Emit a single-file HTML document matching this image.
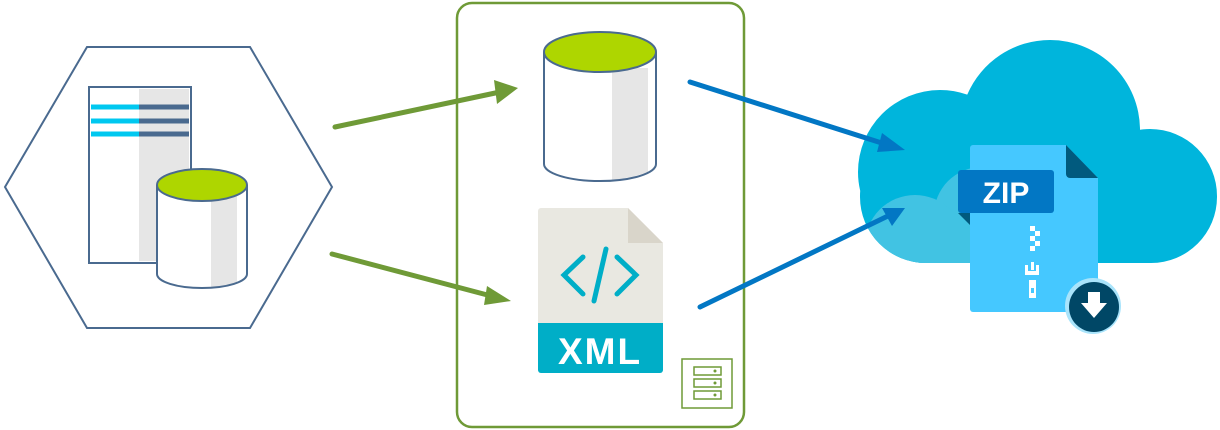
<!DOCTYPE html>
<html><head><meta charset="utf-8"><style>html,body{margin:0;padding:0;background:#fff}svg{display:block}</style></head>
<body>
<svg width="1220" height="430" viewBox="0 0 1220 430" xmlns="http://www.w3.org/2000/svg">
<defs>
<clipPath id="cloud">
<circle cx="940" cy="172" r="82"/>
<circle cx="1050" cy="130" r="90"/>
<circle cx="1150" cy="196" r="67"/>
<rect x="860" y="130" width="357" height="133" rx="66"/>
</clipPath>
</defs>
<!-- hexagon -->
<polygon points="5,187 87,47 250,47 332,187 250,328 87,328" fill="#fff" stroke="#4a6a8f" stroke-width="2"/>
<rect x="89" y="87" width="102" height="176" fill="#fff" stroke="#4a6a8f" stroke-width="2"/>
<rect x="139" y="89" width="50" height="172" fill="#e6e6e6"/>
<g stroke-width="5">
<line x1="91" y1="107" x2="139" y2="107" stroke="#00c8f0"/><line x1="139" y1="107" x2="189" y2="107" stroke="#4a6a8f"/>
<line x1="91" y1="121" x2="139" y2="121" stroke="#00c8f0"/><line x1="139" y1="121" x2="189" y2="121" stroke="#4a6a8f"/>
<line x1="91" y1="134" x2="139" y2="134" stroke="#00c8f0"/><line x1="139" y1="134" x2="189" y2="134" stroke="#4a6a8f"/>
</g>
<path d="M157,185 V274 A45,14 0 0 0 247,274 V185 Z" fill="#fff"/>
<path d="M211,195 H237 V283 Q225,287 211,288 Z" fill="#e6e6e6"/>
<path d="M157,185 V274 A45,14 0 0 0 247,274 V185" fill="none" stroke="#4a6a8f" stroke-width="2"/>
<ellipse cx="202" cy="185" rx="45" ry="16" fill="#aed600" stroke="#4a6a8f" stroke-width="2"/>
<!-- container -->
<rect x="457" y="3" width="287" height="424" rx="15" fill="none" stroke="#6f9a37" stroke-width="2.5"/>
<!-- top cylinder -->
<path d="M544,52 V164 A56,17 0 0 0 656,164 V52 Z" fill="#fff"/>
<path d="M612,68 H648 V172 Q632,178 612,180 Z" fill="#e6e6e6"/>
<path d="M544,52 V164 A56,17 0 0 0 656,164 V52" fill="none" stroke="#4a6a8f" stroke-width="2"/>
<ellipse cx="600" cy="52" rx="56" ry="20" fill="#aed600" stroke="#4a6a8f" stroke-width="2"/>
<!-- XML doc -->
<path d="M541,208 H628 L663,243 V370 a3,3 0 0 1 -3,3 H541 a3,3 0 0 1 -3,-3 V211 a3,3 0 0 1 3,-3 Z" fill="#e9e8e1"/>
<path d="M628,208 L663,243 H628 Z" fill="#d9d5ca"/>
<path d="M538,323 H663 V370 a3,3 0 0 1 -3,3 H541 a3,3 0 0 1 -3,-3 Z" fill="#00aec7"/>
<g stroke="#00aec7" stroke-width="5" stroke-linecap="round" fill="none">
<polyline points="583,257 564,275 583,294"/>
<polyline points="617,257 636,275 617,294"/>
<line x1="606" y1="249" x2="594" y2="301"/>
</g>
<text x="600" y="364" text-anchor="middle" font-family="Liberation Sans, sans-serif" font-weight="bold" font-size="37" fill="#fff" letter-spacing="2">XML</text>
<!-- server icon -->
<rect x="682" y="359" width="50" height="49" fill="none" stroke="#6f9a37" stroke-width="1.5"/>
<g fill="none" stroke="#6f9a37" stroke-width="1.5">
<rect x="694" y="367" width="27" height="8"/><rect x="694" y="379" width="27" height="8"/><rect x="694" y="391" width="27" height="8"/>
</g>
<g fill="#6f9a37"><circle cx="715" cy="371" r="1.5"/><circle cx="715" cy="383" r="1.5"/><circle cx="715" cy="395" r="1.5"/></g>
<!-- cloud -->
<g clip-path="url(#cloud)">
<rect x="850" y="30" width="370" height="240" fill="#00b5dc"/>
<circle cx="982" cy="215" r="48" fill="#41c3e3"/>
<circle cx="915" cy="245" r="50" fill="#41c3e3"/>
<rect x="915" y="215" width="70" height="60" fill="#41c3e3"/>
</g>
<!-- zip file -->
<path d="M973,145 H1066 L1098,178 V309 a3,3 0 0 1 -3,3 H973 a3,3 0 0 1 -3,-3 V148 a3,3 0 0 1 3,-3 Z" fill="#45c8ff"/>
<path d="M1066,145 L1098,178 H1070 a4,4 0 0 1 -4,-4 Z" fill="#015a7e"/>
<path d="M958,213 L970,225 V213 Z" fill="#015a7e"/>
<rect x="958" y="170" width="96" height="43" rx="3" fill="#0277c4"/>
<text x="1006" y="203" text-anchor="middle" font-family="Liberation Sans, sans-serif" font-weight="bold" font-size="30" fill="#fff">ZIP</text>
<g fill="#fff">
<rect x="1030" y="226" width="5" height="5"/><rect x="1035" y="231" width="5" height="5"/><rect x="1030" y="236" width="5" height="5"/><rect x="1035" y="241" width="5" height="5"/><rect x="1030" y="246" width="5" height="5"/>
<path d="M1025,265 H1028 V271 H1036 V265 H1039 V275 H1025 Z"/>
<rect x="1031" y="262" width="3" height="8"/>
<path d="M1029,280 H1036 V298 H1029 Z"/>
</g>
<rect x="1031" y="288" width="3" height="5" fill="#45c8ff"/>
<circle cx="1093" cy="306" r="28" fill="#a9e4fb"/>
<circle cx="1094" cy="307" r="25" fill="#004766"/>
<path d="M1088,292 H1100 V303 H1107 L1094,318 L1081,303 H1088 Z" fill="#fff"/>
<!-- arrows -->
<g stroke-width="5" stroke-linecap="round">
<line x1="335" y1="127" x2="500" y2="92" stroke="#6f9a37"/>
<line x1="332" y1="254" x2="495" y2="297" stroke="#6f9a37"/>
<line x1="690" y1="82" x2="888" y2="145" stroke="#0277c4"/>
<line x1="700" y1="307" x2="890" y2="215" stroke="#0277c4"/>
</g>
<polygon points="518,88 494,80 497,104" fill="#6f9a37"/>
<polygon points="511,301 487,286 484,305" fill="#6f9a37"/>
<polygon points="905,150 882,133 877,152" fill="#0277c4"/>
<polygon points="905,208 882,208 892,226" fill="#0277c4"/>
</svg>
</body></html>
